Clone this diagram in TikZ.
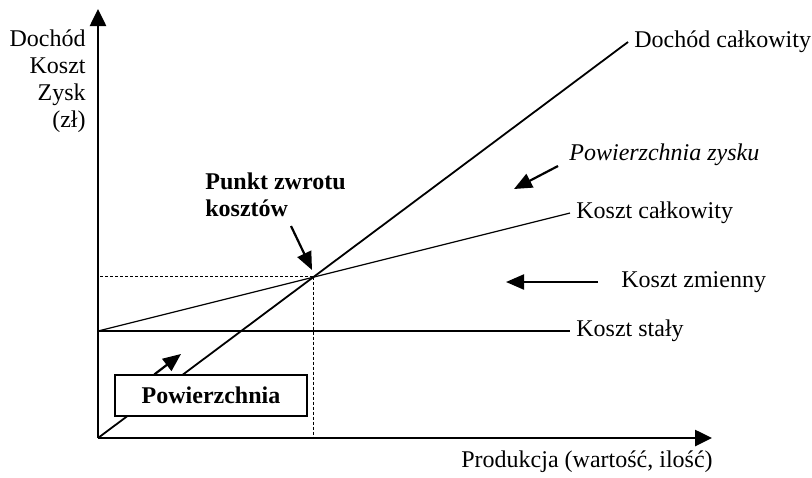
\documentclass[tikz,border=0pt]{standalone}
\usepackage{fontspec}
\setmainfont{Liberation Serif}
\usetikzlibrary{arrows.meta,positioning}

\begin{document}
\begin{tikzpicture}[x=0.5pt,y=-0.5pt,
    font=\fontsize{12}{13.5}\selectfont,
    axis/.style={line width=1.3pt,-{Triangle[length=8.5pt,width=8pt]}},
    pointer/.style={line width=1.1pt,-{Triangle[length=9pt,width=7.5pt]}},
    curve/.style={line width=0.6pt},
    guide/.style={line width=0.4pt,dash pattern=on 1.5pt off 1pt},
    lbl/.style={inner xsep=3pt,inner ysep=0pt,anchor=west}]
    \useasboundingbox (0,0) rectangle (812,477);

    % Axes
    \coordinate (O) at (98,438);
    \coordinate (ytip) at (98,9);
    \coordinate (xtip) at (712,438);
    \draw[axis] (O) -- (ytip);
    \draw[axis] (O) -- (xtip);
    \node[align=right,anchor=east,inner sep=0pt] (ylab) at (86,81) {Doch\'od\\Koszt\\Zysk\\(z\l)};
    \node[inner sep=0pt] (xlab) at (587,462) {Produkcja (warto\'s\'c, ilo\'s\'c)};

    % Lines and their labels
    \node[lbl] (dc) at (628,42) {Doch\'od ca\l kowity};
    \node[lbl] (kc) at (570,213) {Koszt ca\l kowity};
    \node[lbl] (ks) at (570,331) {Koszt sta\l y};
    \coordinate (F) at (98,331);
    \draw[line width=0.9pt] (O) -- (dc.west);
    \draw[curve] (F) -- (kc.west);
    \draw[curve] (F) -- (ks.west);

    % Break-even point
    \coordinate (B) at (313,276.5);
    \draw[guide] (B) -- (B -| O);
    \draw[guide] (B) -- (B |- O);
    \node[anchor=north west,align=left,inner sep=0pt,font=\fontsize{12}{13.5}\selectfont\bfseries] (pkt) at (205,172) {Punkt zwrotu\\koszt\'ow};
    \coordinate (pkt-end) at (312,270);
    \draw[pointer] (291,226) -- (pkt-end);

    % Areas
    \node[lbl,font=\fontsize{12}{13.5}\selectfont\itshape] (pz) at (563,155) {Powierzchnia zysku};
    \coordinate (pz-end) at (514,189);
    \draw[pointer] (558,166) -- (pz-end);

    \node[lbl] (kz) at (615,282) {Koszt zmienny};
    \coordinate (kz-end) at (506,282);
    \draw[pointer] (598,282) -- (kz-end);

    \node[draw,fill=white,line width=0.6pt,minimum width=96pt,minimum height=20.5pt,
        font=\fontsize{12}{13.5}\selectfont\bfseries] (pow) at (211,395.5) {Powierzchnia};
    \coordinate (pow-end) at (181,354);
    \draw[pointer] (pow.north west) ++(40,0) -- (pow-end);
\end{tikzpicture}
\end{document}
